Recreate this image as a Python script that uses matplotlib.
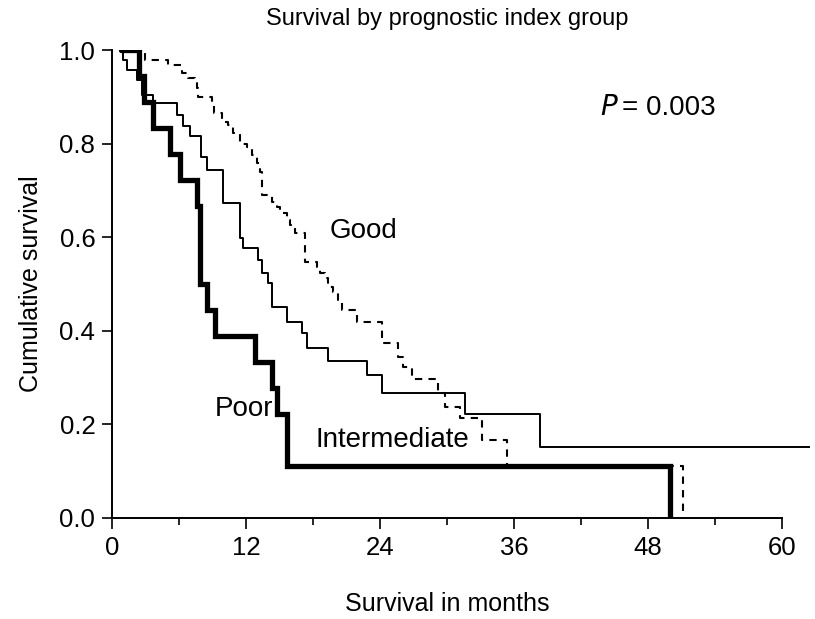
import numpy as np
import matplotlib
matplotlib.use('Agg')
import matplotlib.pyplot as plt
import matplotlib.transforms as mtransforms

plt.rcParams['font.family'] = ['Liberation Sans', 'DejaVu Sans']

# step curves: time of each drop (months) and level after it
good_t = [0.8, 2.95, 5.0, 6.3, 6.8, 7.4, 7.6, 7.7, 9.0, 9.1, 9.85, 10.4, 10.8,
          11.5, 12.1, 12.5, 13.0, 13.25, 13.4, 14.3, 14.8, 15.0, 15.7, 15.9,
          16.4, 17.3, 18.35, 18.6, 19.1, 19.3, 19.8, 20.2, 20.6, 21.9, 24.2,
          25.6, 26.05, 26.9, 29.2, 29.8, 31.2, 33.1, 35.4, 51.1]
good_s = [1.0, 0.979, 0.968, 0.951, 0.94, 0.932, 0.919, 0.9, 0.882, 0.865,
          0.846, 0.84, 0.823, 0.8, 0.793, 0.776, 0.759, 0.739, 0.69, 0.675,
          0.665, 0.652, 0.637, 0.626, 0.609, 0.547, 0.536, 0.523, 0.513,
          0.494, 0.483, 0.466, 0.444, 0.419, 0.374, 0.344, 0.323, 0.297,
          0.267, 0.237, 0.214, 0.167, 0.111, 0.0]

inter_t = [0.8, 1.0, 1.35, 2.2, 2.7, 3.7, 5.8, 6.35, 7.0, 8.0, 8.55, 9.95,
           11.45, 11.7, 13.1, 13.4, 14.0, 14.3, 15.7, 17.0, 17.5, 19.3, 22.8,
           24.2, 31.6, 38.3, 62.5]
inter_s = [1.0, 0.979, 0.957, 0.936, 0.904, 0.887, 0.861, 0.838, 0.816,
           0.771, 0.744, 0.673, 0.598, 0.577, 0.551, 0.523, 0.502, 0.45,
           0.419, 0.396, 0.364, 0.335, 0.306, 0.267, 0.222, 0.151, 0.151]

poor_t = [0.8, 2.4, 2.9, 3.7, 5.2, 6.1, 7.6, 7.9, 8.5, 9.2, 12.8, 14.3, 14.8,
          15.7, 50.0]
poor_s = [1.0, 0.944, 0.889, 0.833, 0.778, 0.722, 0.667, 0.5, 0.444, 0.389,
          0.333, 0.278, 0.222, 0.111, 0.0]

fig = plt.figure(figsize=(8.15, 6.19), dpi=100)
ax = fig.add_axes([0.1374, 0.1632, 0.8565, 0.756])

ax.step(good_t, good_s, where='post', color='black', lw=1.5,
        linestyle=(0, (3.5, 3)), zorder=2)
ax.step(inter_t, inter_s, where='post', color='black', lw=1.4, zorder=3)
ax.step(poor_t, poor_s, where='post', color='black', lw=3.8, zorder=4,
        solid_capstyle='round', solid_joinstyle='miter')

ax.set_xlim(0, 62.5)
ax.set_ylim(0, 1.0)
ax.spines['top'].set_visible(False)
ax.spines['right'].set_visible(False)
ax.spines['bottom'].set_bounds(0, 60)
for s in ('left', 'bottom'):
    ax.spines[s].set_linewidth(1.4)

ax.set_xticks(np.arange(0, 61, 12))
ax.set_xticks(np.arange(6, 61, 12), minor=True)
ax.set_yticks(np.arange(0, 1.01, 0.2))
ax.yaxis.set_major_formatter(plt.FormatStrFormatter('%.1f'))
ax.tick_params(axis='x', which='major', length=8, width=1.2, labelsize=18.5, pad=5)
ax.tick_params(axis='x', which='minor', length=5, width=1.2)
ax.tick_params(axis='y', length=7, width=1.2, labelsize=18.5, pad=5)

ax.set_ylabel('Cumulative survival', fontsize=18, labelpad=12)
trans = mtransforms.blended_transform_factory(ax.transData, fig.transFigure)
ax.text(30, 0.025, 'Survival in months', fontsize=18, ha='center',
        va='center', transform=trans)
ax.text(30, 0.97, 'Survival by prognostic index group', fontsize=17,
        ha='center', va='center', transform=trans)

ax.text(19.5, 0.613, 'Good', fontsize=20, va='center')
ax.text(9.2, 0.233, 'Poor', fontsize=20, va='center')
ax.text(18.2, 0.167, 'Intermediate', fontsize=20, va='center')
ax.text(43.7, 0.876, '$P$', fontsize=20, va='center')
ax.text(45.7, 0.876, '= 0.003', fontsize=20, va='center')

fig.savefig('out.png', dpi=100)
